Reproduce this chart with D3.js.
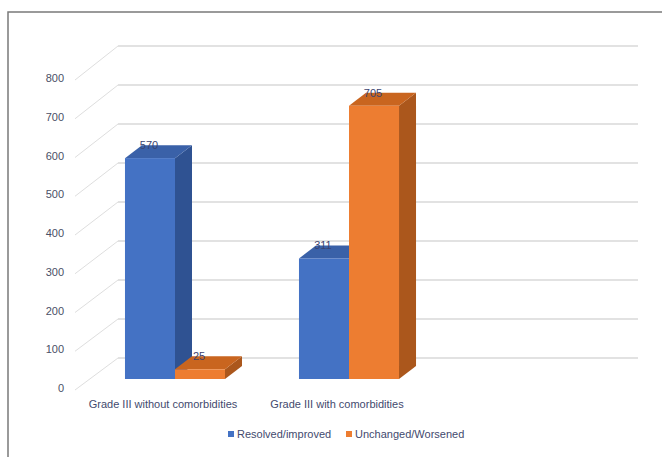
<!DOCTYPE html>
<html>
<head>
<meta charset="utf-8">
<script src="https://cdn.jsdelivr.net/npm/d3@7"></script>
<style>
  body { margin: 0; background: #fff; }
  svg { display: block; font-family: "Liberation Sans", Arial, sans-serif; }
</style>
</head>
<body>
<svg id="chart" width="662" height="457"></svg>
<script>
const categories = ["Grade III without comorbidities", "Grade III with comorbidities"];
const seriesNames = ["Resolved/improved", "Unchanged/Worsened"];
const resolved = [570, 311];
const unchanged = [25, 705];
const yTicks = [0, 100, 200, 300, 400, 500, 600, 700, 800];

const svg = d3.select("#chart");

// frame
svg.append("rect")
  .attr("x", 8).attr("y", 12)
  .attr("width", 700).attr("height", 500)
  .attr("fill", "none")
  .attr("stroke", "#7a7a7a")
  .attr("stroke-width", 1.5);

const wallLeft = 118, wallRight = 638, floorLeft = 75;
const yWall = d3.scaleLinear().domain([0, 800]).range([358, 46]);
const yFloor = d3.scaleLinear().domain([0, 800]).range([390, 80]);
const yBar = d3.scaleLinear().domain([0, 800]).range([379, 69]);
const depth = { dx: 17, dy: 13 };

// back wall gridlines + side wall diagonals
const grid = svg.append("g");
grid.selectAll("line.h").data(yTicks).join("line")
  .attr("class", "h")
  .attr("x1", wallLeft).attr("x2", wallRight)
  .attr("y1", (d) => yWall(d)).attr("y2", (d) => yWall(d))
  .attr("stroke", "#d9d9d9").attr("stroke-width", 1.5);
grid.selectAll("line.d").data(yTicks).join("line")
  .attr("class", "d")
  .attr("x1", floorLeft).attr("x2", wallLeft)
  .attr("y1", (d) => yFloor(d)).attr("y2", (d) => yWall(d))
  .attr("stroke", "#dedede").attr("stroke-width", 1);

svg.append("g").selectAll("text").data(yTicks).join("text")
  .attr("x", 64)
  .attr("y", (d) => yFloor(d) - 2)
  .attr("text-anchor", "end")
  .attr("dominant-baseline", "central")
  .attr("font-size", 11)
  .attr("fill", "#4a4f66")
  .text((d) => d);

// bars
const x0 = d3.scaleBand().domain(categories).range([88, 436])
  .paddingInner(0.425).paddingOuter(0.2125);
const x1 = d3.scaleBand().domain(seriesNames).range([0, x0.bandwidth()]);

const colors = {
  "Resolved/improved": { front: "#4472c4", top: "#3a61a8", side: "#2f5292" },
  "Unchanged/Worsened": { front: "#ed7d31", top: "#c9651f", side: "#ab571c" },
};

const bars = [];
categories.forEach((c, i) => {
  bars.push({ cat: c, series: seriesNames[0], value: resolved[i] });
  bars.push({ cat: c, series: seriesNames[1], value: unchanged[i] });
});

const barG = svg.append("g");
bars.forEach((b) => {
  const xa = x0(b.cat) + x1(b.series);
  const xb = xa + x1.bandwidth();
  const yt = yBar(b.value);
  const yb = yBar(0);
  const col = colors[b.series];
  const g = barG.append("g");
  g.append("polygon")
    .attr("points", [[xb, yt], [xb + depth.dx, yt - depth.dy], [xb + depth.dx, yb - depth.dy], [xb, yb]].join(" "))
    .attr("fill", col.side);
  g.append("polygon")
    .attr("points", [[xa, yt], [xb, yt], [xb + depth.dx, yt - depth.dy], [xa + depth.dx, yt - depth.dy]].join(" "))
    .attr("fill", col.top);
  g.append("rect")
    .attr("x", xa).attr("y", yt)
    .attr("width", xb - xa).attr("height", yb - yt)
    .attr("fill", col.front);
  g.append("text")
    .attr("x", (xa + xb) / 2 - 1)
    .attr("y", yt - depth.dy)
    .attr("text-anchor", "middle")
    .attr("dominant-baseline", "central")
    .attr("font-size", 11)
    .attr("fill", "#3b4470")
    .text(b.value);
});

// category labels
svg.append("g").selectAll("text").data(categories).join("text")
  .attr("x", (d) => x0(d) + x0.bandwidth() / 2 - 12)
  .attr("y", 404)
  .attr("text-anchor", "middle")
  .attr("dominant-baseline", "central")
  .attr("font-size", 11)
  .attr("fill", "#434a6e")
  .text((d) => d);

// legend
const legendX = [228, 346];
const legend = svg.append("g").selectAll("g").data(seriesNames).join("g")
  .attr("transform", (d, i) => `translate(${legendX[i]}, 434)`);
legend.append("rect")
  .attr("x", 0).attr("y", -3)
  .attr("width", 6).attr("height", 6)
  .attr("fill", (d) => colors[d].front);
legend.append("text")
  .attr("x", 9).attr("y", 0)
  .attr("dominant-baseline", "central")
  .attr("font-size", 11)
  .attr("fill", "#434a6e")
  .text((d) => d);
</script>
</body>
</html>
